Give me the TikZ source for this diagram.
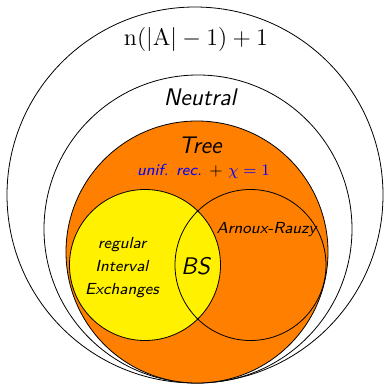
\documentclass[tikz,border=0pt]{standalone}
\usetikzlibrary{positioning}
\definecolor{treeorange}{RGB}{255,128,0}
\definecolor{ietyellow}{RGB}{255,241,0}
\begin{document}
\begin{tikzpicture}[
    x=0.5pt, y=-0.5pt,
    set/.style={draw, circle, inner sep=0pt, outer sep=0pt, line width=0.4pt},
    biglab/.style={font=\large\sffamily\itshape, inner sep=1pt},
    smalllab/.style={font=\footnotesize\sffamily\itshape, inner sep=1pt}
  ]
  \useasboundingbox (0,0) rectangle (385,385);

  % Nested classes
  \node[set, minimum size=188pt] (complex) at (195,195) {};
  \node[set, minimum size=154pt] (neutral) at (198,229) {};
  \node[set, fill=treeorange, minimum size=131pt] (tree) at (197,252) {};

  % Interval exchanges and Arnoux-Rauzy
  \node[set, fill=ietyellow, minimum size=75.5pt] (iet) at (145,265) {};
  \node[set, minimum size=75.5pt] (ar) at (250.5,265) {};

  % Labels
  \node[font=\large] (complexlab) at (196,40) {$\mathrm{n}(|\mathrm{A}|-1)+1$};
  \node[biglab] (neutrallab) at (200,97) {Neutral};
  \node[biglab] (treelab) at (200,145) {Tree};
  \node[smalllab] (treecond) at (203.5,171)
    {\textcolor{blue}{unif. rec.} $+$ \textcolor{blue}{$\chi=1$}};
  \node[smalllab, align=center] (ietlab) at (122,268) {regular\\[2pt]Interval\\[2pt]Exchanges};
  \node[smalllab] (arlab) at (266.5,230) {Arnoux-Rauzy};
  \node[biglab] (bslab) at (195.5,266) {BS};

\end{tikzpicture}
\end{document}
